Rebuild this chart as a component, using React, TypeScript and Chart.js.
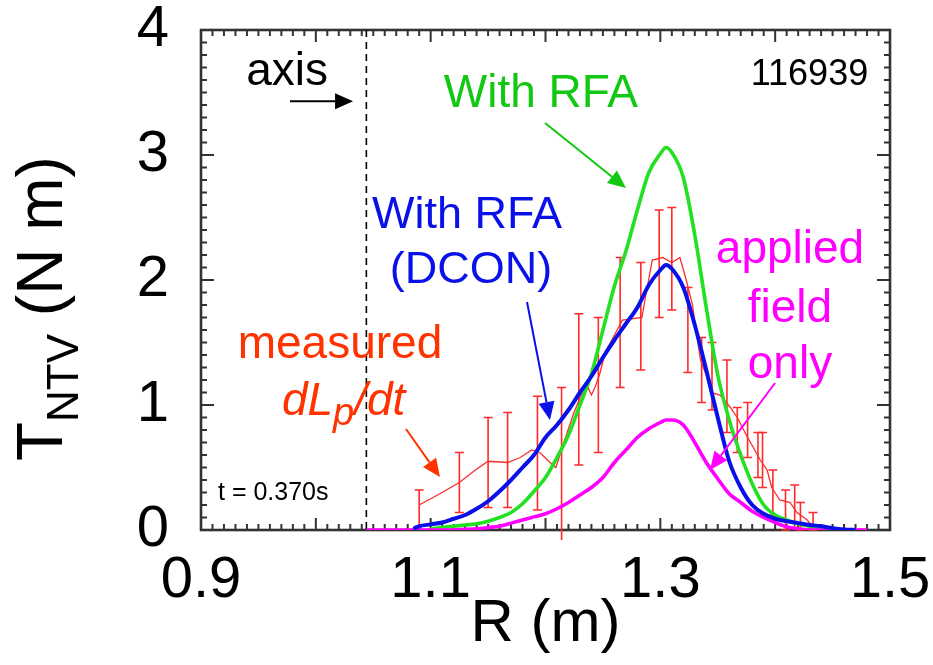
import React, { useEffect, useRef } from "react";
import { Chart, registerables } from "chart.js";

Chart.register(...registerables);

const FONT = '"Liberation Sans", Arial, Helvetica, sans-serif';

// Axis ticks (labelled) and the magnetic axis position
const X_TICKS = [0.9, 1.1, 1.3, 1.5];
const Y_TICKS = [0, 1, 2, 3, 4];
const AXIS_R = 1.044;

// NTV torque with RFA (green)
const RFA_R = [1.10, 1.11, 1.12, 1.13, 1.14, 1.15, 1.16, 1.17, 1.18, 1.19, 1.20, 1.21, 1.22, 1.23, 1.24, 1.25, 1.26, 1.27, 1.28, 1.29, 1.30, 1.305, 1.31, 1.32, 1.33, 1.34, 1.35, 1.36, 1.37, 1.38, 1.39, 1.40, 1.41, 1.42, 1.43, 1.44, 1.45, 1.46];
const RFA_T = [0.01, 0.02, 0.03, 0.04, 0.05, 0.07, 0.10, 0.14, 0.21, 0.31, 0.42, 0.58, 0.76, 1.00, 1.25, 1.60, 1.95, 2.23, 2.56, 2.86, 3.01, 3.06, 3.02, 2.82, 2.36, 1.78, 1.24, 0.88, 0.60, 0.37, 0.20, 0.12, 0.08, 0.05, 0.03, 0.015, 0.005, 0];

// NTV torque with RFA computed by DCON (blue)
const DCON_R = [1.085, 1.09, 1.10, 1.11, 1.12, 1.13, 1.14, 1.15, 1.16, 1.17, 1.18, 1.19, 1.20, 1.21, 1.22, 1.23, 1.24, 1.25, 1.26, 1.27, 1.28, 1.29, 1.30, 1.305, 1.31, 1.32, 1.33, 1.34, 1.35, 1.36, 1.37, 1.38, 1.39, 1.40, 1.41, 1.42, 1.43, 1.44, 1.45, 1.46, 1.47];
const DCON_T = [0.01, 0.03, 0.045, 0.06, 0.09, 0.12, 0.17, 0.23, 0.31, 0.40, 0.50, 0.60, 0.74, 0.84, 0.96, 1.10, 1.23, 1.38, 1.52, 1.65, 1.78, 1.96, 2.08, 2.12, 2.09, 1.94, 1.64, 1.28, 0.90, 0.55, 0.34, 0.20, 0.13, 0.09, 0.07, 0.055, 0.04, 0.03, 0.015, 0.005, 0];

// NTV torque from the applied field only (magenta)
const APPLIED_R = [1.044, 1.12, 1.13, 1.14, 1.15, 1.16, 1.17, 1.18, 1.19, 1.20, 1.21, 1.22, 1.23, 1.24, 1.25, 1.26, 1.27, 1.28, 1.29, 1.30, 1.305, 1.31, 1.32, 1.33, 1.34, 1.35, 1.36, 1.37, 1.38, 1.39, 1.40, 1.41, 1.42, 1.43, 1.48];
const APPLIED_T = [0, 0, 0.005, 0.01, 0.02, 0.03, 0.055, 0.08, 0.105, 0.13, 0.17, 0.22, 0.28, 0.34, 0.42, 0.54, 0.64, 0.74, 0.81, 0.86, 0.88, 0.88, 0.84, 0.70, 0.54, 0.41, 0.29, 0.22, 0.15, 0.10, 0.06, 0.025, 0.01, 0, 0];

// Measured dLp/dt profile (thin red line)
const MEAS_R = [1.090, 1.108, 1.125, 1.139, 1.150, 1.167, 1.178, 1.188, 1.195, 1.204, 1.209, 1.216, 1.224, 1.231, 1.237, 1.240, 1.243, 1.247, 1.252, 1.267, 1.284, 1.287, 1.293, 1.302, 1.310, 1.317, 1.322, 1.328, 1.332, 1.335, 1.340, 1.344, 1.352, 1.361, 1.367, 1.376, 1.381, 1.387, 1.393, 1.397, 1.404, 1.413, 1.419, 1.428, 1.433, 1.452];
const MEAS_T = [0.20, 0.29, 0.38, 0.48, 0.55, 0.54, 0.58, 0.64, 0.62, 0.54, 0.50, 0.70, 0.92, 1.08, 1.14, 1.08, 1.14, 1.24, 1.42, 1.68, 1.70, 1.86, 2.16, 2.18, 2.14, 2.18, 2.02, 1.80, 1.54, 1.36, 1.24, 1.10, 1.08, 0.98, 0.90, 0.74, 0.66, 0.56, 0.48, 0.34, 0.24, 0.22, 0.14, 0.08, 0.02, 0];

// Error bars on the measurement
const ERR_R = [1.090, 1.125, 1.150, 1.167, 1.193, 1.214, 1.229, 1.246, 1.265, 1.283, 1.299, 1.310, 1.324, 1.336, 1.345, 1.358, 1.367, 1.376, 1.385, 1.389, 1.398, 1.409, 1.417, 1.422, 1.433];
const ERR_LO = [0.03, 0.14, 0.18, 0.18, 0.16, -0.08, 0.52, 0.62, 1.14, 1.28, 1.70, 1.76, 1.26, 1.02, 0.96, 0.78, 0.62, 0.58, 0.42, 0.34, 0.12, 0.00, 0.02, 0.00, 0.00];
const ERR_HI = [0.32, 0.62, 0.90, 0.94, 1.07, 1.14, 1.73, 1.70, 2.18, 2.14, 2.56, 2.58, 1.94, 1.54, 1.50, 1.36, 0.98, 1.02, 0.78, 0.78, 0.48, 0.32, 0.36, 0.22, 0.14];

const COL_RFA = "#22e022";
const COL_RFA_TEXT = "#12c812";
const COL_DCON = "#0a10e8";
const COL_APPLIED = "#ff00ff";
const COL_MEAS = "#ff2a2a";
const COL_MEAS_TEXT = "#ff3300";
const COL_FRAME = "#333333";

const toPoints = (rs: number[], ts: number[]) => rs.map((r, i) => ({ x: r, y: ts[i] }));

type Note = { text: string; r: number; t: number; color: string; size: number; align: CanvasTextAlign };

const NOTES: Note[] = [
  { text: "axis", r: 0.975, t: 3.56, color: "#000", size: 46, align: "center" },
  { text: "116939", r: 1.481, t: 3.56, color: "#000", size: 36, align: "right" },
  { text: "With RFA", r: 1.196, t: 3.384, color: COL_RFA_TEXT, size: 46, align: "center" },
  { text: "With RFA", r: 1.1316, t: 2.416, color: COL_DCON, size: 45, align: "center" },
  { text: "(DCON)", r: 1.1351, t: 1.976, color: COL_DCON, size: 45, align: "center" },
  { text: "applied", r: 1.4129, t: 2.136, color: COL_APPLIED, size: 46, align: "center" },
  { text: "field", r: 1.4129, t: 1.664, color: COL_APPLIED, size: 46, align: "center" },
  { text: "only", r: 1.4129, t: 1.216, color: COL_APPLIED, size: 46, align: "center" },
  { text: "measured", r: 1.021, t: 1.376, color: COL_MEAS_TEXT, size: 46, align: "center" },
  { text: "t = 0.370s", r: 0.9148, t: 0.24, color: "#000", size: 25, align: "left" },
];

type Arrow = { r0: number; t0: number; r1: number; t1: number; color: string };

const ARROWS: Arrow[] = [
  { r0: 0.9775, t0: 3.43, r1: 1.0324, t1: 3.43, color: "#000" },
  { r0: 1.1996, t0: 3.256, r1: 1.2701, t1: 2.736, color: COL_RFA_TEXT },
  { r0: 1.1839, t0: 1.824, r1: 1.2039, t1: 0.88, color: COL_DCON },
  { r0: 1.3999, t0: 1.176, r1: 1.3433, t1: 0.48, color: COL_APPLIED },
  { r0: 1.0785, t0: 0.808, r1: 1.1081, t1: 0.424, color: COL_MEAS_TEXT },
];

function drawArrow(ctx: CanvasRenderingContext2D, x0: number, y0: number, x1: number, y1: number, color: string) {
  const headLen = 18;
  const headHalf = 8;
  const a = Math.atan2(y1 - y0, x1 - x0);
  const bx = x1 - headLen * Math.cos(a);
  const by = y1 - headLen * Math.sin(a);
  ctx.strokeStyle = color;
  ctx.fillStyle = color;
  ctx.lineWidth = 2;
  ctx.beginPath();
  ctx.moveTo(x0, y0);
  ctx.lineTo(bx, by);
  ctx.stroke();
  ctx.beginPath();
  ctx.moveTo(x1, y1);
  ctx.lineTo(bx + headHalf * Math.sin(a), by - headHalf * Math.cos(a));
  ctx.lineTo(bx - headHalf * Math.sin(a), by + headHalf * Math.cos(a));
  ctx.closePath();
  ctx.fill();
}

// Frame with inward major/minor ticks on all four sides, axis marker and error bars
const framePlugin = {
  id: "frameAndErrors",
  beforeDatasetsDraw(chart: any) {
    const { ctx, chartArea: ca, scales } = chart;
    const xs = scales.x;
    const ys = scales.y;
    ctx.save();
    ctx.strokeStyle = COL_FRAME;
    ctx.lineWidth = 2;
    for (let i = 90; i <= 150; i++) {
      const px = xs.getPixelForValue(i / 100);
      const len = i % 10 === 0 ? 12 : 6;
      ctx.beginPath();
      ctx.moveTo(px, ca.bottom);
      ctx.lineTo(px, ca.bottom - len);
      ctx.moveTo(px, ca.top);
      ctx.lineTo(px, ca.top + len);
      ctx.stroke();
    }
    for (let i = 0; i <= 40; i++) {
      const py = ys.getPixelForValue(i / 10);
      const len = i % 10 === 0 ? 13 : 6;
      ctx.beginPath();
      ctx.moveTo(ca.left, py);
      ctx.lineTo(ca.left + len, py);
      ctx.moveTo(ca.right, py);
      ctx.lineTo(ca.right - len, py);
      ctx.stroke();
    }
    ctx.lineWidth = 2.6;
    ctx.strokeRect(ca.left, ca.top, ca.right - ca.left, ca.bottom - ca.top);

    // magnetic axis
    const ax = xs.getPixelForValue(AXIS_R);
    ctx.strokeStyle = "#000";
    ctx.lineWidth = 1.6;
    ctx.setLineDash([7, 5]);
    ctx.beginPath();
    ctx.moveTo(ax, ca.top);
    ctx.lineTo(ax, ca.bottom);
    ctx.stroke();
    ctx.setLineDash([]);

    // error bars
    ctx.beginPath();
    ctx.rect(ca.left, ca.top, ca.right - ca.left, ca.bottom - ca.top + 10);
    ctx.clip();
    ctx.strokeStyle = COL_MEAS;
    ctx.lineWidth = 1.6;
    const cap = 4.5;
    ERR_R.forEach((r, i) => {
      const px = xs.getPixelForValue(r);
      const lo = ys.getPixelForValue(ERR_LO[i]);
      const hi = ys.getPixelForValue(ERR_HI[i]);
      ctx.beginPath();
      ctx.moveTo(px, lo);
      ctx.lineTo(px, hi);
      ctx.moveTo(px - cap, hi);
      ctx.lineTo(px + cap, hi);
      if (ERR_LO[i] >= 0) {
        ctx.moveTo(px - cap, lo);
        ctx.lineTo(px + cap, lo);
      }
      ctx.stroke();
    });
    ctx.restore();
  },
};

// Labels, arrows and axis titles
const notesPlugin = {
  id: "notes",
  afterDatasetsDraw(chart: any) {
    const { ctx, chartArea: ca, scales } = chart;
    const xs = scales.x;
    const ys = scales.y;
    ctx.save();
    ctx.textBaseline = "alphabetic";
    NOTES.forEach((n) => {
      ctx.font = `${n.size}px ${FONT}`;
      ctx.fillStyle = n.color;
      ctx.textAlign = n.align;
      ctx.fillText(n.text, xs.getPixelForValue(n.r), ys.getPixelForValue(n.t));
    });

    // dLp/dt with subscript p
    ctx.fillStyle = COL_MEAS_TEXT;
    ctx.textAlign = "left";
    let x = xs.getPixelForValue(0.9705);
    const y = ys.getPixelForValue(0.92);
    ctx.font = `italic 46px ${FONT}`;
    ctx.fillText("dL", x, y);
    x += ctx.measureText("dL").width;
    ctx.font = `italic 38px ${FONT}`;
    ctx.fillText("p", x, y + 10);
    x += ctx.measureText("p").width;
    ctx.font = `italic 46px ${FONT}`;
    ctx.fillText("/dt", x, y);

    ARROWS.forEach((a) => {
      drawArrow(
        ctx,
        xs.getPixelForValue(a.r0),
        ys.getPixelForValue(a.t0),
        xs.getPixelForValue(a.r1),
        ys.getPixelForValue(a.t1),
        a.color
      );
    });

    // x-axis title
    ctx.fillStyle = "#000";
    ctx.font = `60px ${FONT}`;
    ctx.textAlign = "center";
    ctx.fillText("R (m)", (ca.left + ca.right) / 2, 641);

    // y-axis title, rotated, with subscript
    ctx.translate(62, 461);
    ctx.rotate(-Math.PI / 2);
    ctx.textAlign = "left";
    let tx = 0;
    ctx.font = `64px ${FONT}`;
    ctx.fillText("T", tx, 0);
    tx += ctx.measureText("T").width;
    ctx.font = `44px ${FONT}`;
    ctx.fillText("NTV", tx, 16);
    tx += ctx.measureText("NTV").width;
    ctx.font = `64px ${FONT}`;
    ctx.fillText(" (N m)", tx, 0);
    ctx.restore();
  },
};

export default function App() {
  const ref = useRef<HTMLCanvasElement>(null);

  useEffect(() => {
    if (!ref.current) return;
    const lineBase = {
      pointRadius: 0,
      fill: false,
      cubicInterpolationMode: "monotone" as const,
    };
    const chart = new Chart(ref.current, {
      type: "line",
      data: {
        datasets: [
          { ...lineBase, label: "With RFA (DCON)", data: toPoints(DCON_R, DCON_T), borderColor: COL_DCON, borderWidth: 4 },
          { ...lineBase, label: "applied field only", data: toPoints(APPLIED_R, APPLIED_T), borderColor: COL_APPLIED, borderWidth: 3.6 },
          { ...lineBase, label: "With RFA", data: toPoints(RFA_R, RFA_T), borderColor: COL_RFA, borderWidth: 3.6 },
          { label: "measured dLp/dt", data: toPoints(MEAS_R, MEAS_T), borderColor: COL_MEAS, borderWidth: 1.3, pointRadius: 0, tension: 0, fill: false },
        ],
      },
      options: {
        animation: false,
        responsive: false,
        devicePixelRatio: 1,
        layout: { padding: { top: 30, right: 43, left: 0, bottom: 0 } },
        plugins: { legend: { display: false }, tooltip: { enabled: false } },
        scales: {
          x: {
            type: "linear",
            min: 0.9,
            max: 1.5,
            grid: { display: false, drawTicks: false },
            border: { display: false },
            afterBuildTicks: (s: any) => {
              s.ticks = X_TICKS.map((v) => ({ value: v }));
            },
            afterFit: (s: any) => {
              s.height = 135;
              s.paddingLeft = 0;
              s.paddingRight = 0;
            },
            ticks: {
              font: { family: FONT, size: 58, lineHeight: 1 },
              color: "#000",
              padding: 22,
              maxRotation: 0,
              autoSkip: false,
              callback: (v: any) => Number(v).toFixed(1),
            },
          },
          y: {
            type: "linear",
            min: 0,
            max: 4,
            grid: { display: false, drawTicks: false },
            border: { display: false },
            afterBuildTicks: (s: any) => {
              s.ticks = Y_TICKS.map((v) => ({ value: v }));
            },
            afterFit: (s: any) => {
              s.width = 201;
              s.paddingTop = 0;
              s.paddingBottom = 0;
            },
            ticks: {
              font: { family: FONT, size: 58, lineHeight: 1 },
              color: "#000",
              padding: 32,
              callback: (v: any) => String(v),
            },
          },
        },
      },
      plugins: [framePlugin, notesPlugin],
    });
    return () => chart.destroy();
  }, []);

  return (
    <div style={{ position: "fixed", left: 0, top: 0, width: 933, height: 665, background: "#fff" }}>
      <canvas ref={ref} width={933} height={665} style={{ display: "block" }} />
    </div>
  );
}
